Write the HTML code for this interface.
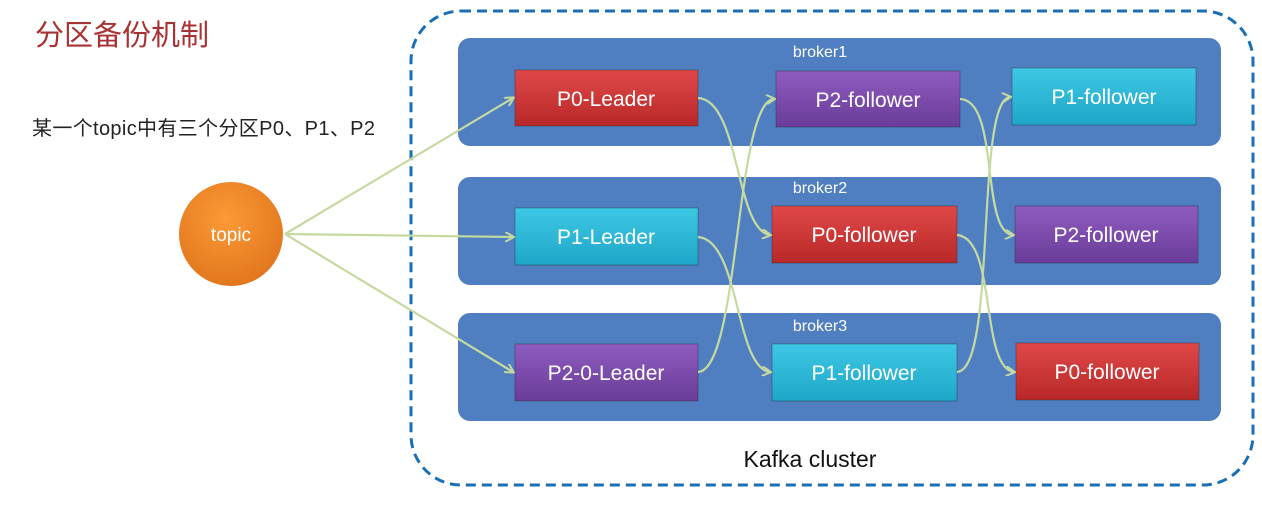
<!DOCTYPE html>
<html><head><meta charset="utf-8"><style>
body{margin:0;background:#fff;width:1262px;height:507px;overflow:hidden}
text{font-family:"Liberation Sans","Noto Sans CJK SC",sans-serif}
</style></head><body>
<svg width="1262" height="507" viewBox="0 0 1262 507" xmlns="http://www.w3.org/2000/svg">
<defs>
<linearGradient id="red" x1="0" y1="0" x2="0" y2="1"><stop offset="0" stop-color="#e04848"/><stop offset="1" stop-color="#b82828"/></linearGradient>
<linearGradient id="pur" x1="0" y1="0" x2="0" y2="1"><stop offset="0" stop-color="#8e5cc0"/><stop offset="1" stop-color="#6a3c98"/></linearGradient>
<linearGradient id="cy" x1="0" y1="0" x2="0" y2="1"><stop offset="0" stop-color="#3ec8e4"/><stop offset="1" stop-color="#1ea6c8"/></linearGradient>
<radialGradient id="or" cx="0.45" cy="0.35" r="0.7"><stop offset="0" stop-color="#fb9a36"/><stop offset="1" stop-color="#e0741c"/></radialGradient>
<marker id="a" markerWidth="10" markerHeight="10" refX="8" refY="5" orient="auto" markerUnits="userSpaceOnUse"><path d="M0,0 L9,5 L0,10" fill="none" stroke="#c5d9a0" stroke-width="2"/></marker>
</defs>
<text x="35" y="45" font-size="29" fill="#a83232">分区备份机制</text>
<text x="32" y="135" font-size="20" fill="#222" textLength="343">某一个topic中有三个分区P0、P1、P2</text>
<rect x="411" y="11" width="842" height="474" rx="50" fill="none" stroke="#1a6fb5" stroke-width="3" stroke-dasharray="10 6"/>
<g fill="#4f7fc0">
<rect x="458" y="38" width="763" height="108" rx="12"/>
<rect x="458" y="177" width="763" height="108" rx="12"/>
<rect x="458" y="313" width="763" height="108" rx="12"/>
</g>
<g font-size="16" fill="#fff" text-anchor="middle">
<text x="820" y="57">broker1</text><text x="820" y="193">broker2</text><text x="820" y="331">broker3</text>
</g>
<g stroke="#222" stroke-opacity="0.35" stroke-width="1">
<rect x="515" y="70" width="183" height="56" fill="url(#red)"/>
<rect x="776" y="71" width="184" height="56" fill="url(#pur)"/>
<rect x="1012" y="68" width="184" height="57" fill="url(#cy)"/>
<rect x="515" y="208" width="183" height="57" fill="url(#cy)"/>
<rect x="772" y="206" width="185" height="57" fill="url(#red)"/>
<rect x="1015" y="206" width="183" height="57" fill="url(#pur)"/>
<rect x="515" y="344" width="183" height="57" fill="url(#pur)"/>
<rect x="772" y="344" width="185" height="57" fill="url(#cy)"/>
<rect x="1016" y="343" width="183" height="57" fill="url(#red)"/>
</g>
<g font-size="21" fill="#fff" text-anchor="middle">
<text x="606" y="106">P0-Leader</text>
<text x="868" y="107">P2-follower</text>
<text x="1104" y="104">P1-follower</text>
<text x="606" y="244">P1-Leader</text>
<text x="864" y="242">P0-follower</text>
<text x="1106" y="242">P2-follower</text>
<text x="606" y="380">P2-0-Leader</text>
<text x="864" y="380">P1-follower</text>
<text x="1107" y="379">P0-follower</text>
</g>
<circle cx="231" cy="234" r="52" fill="url(#or)"/>
<text x="231" y="241" font-size="19" fill="#fff" text-anchor="middle">topic</text>
<g fill="none" stroke="#c5d9a0" stroke-width="2.2" marker-end="url(#a)">
<path d="M285,234 L513,98"/>
<path d="M285,234 L513,237"/>
<path d="M285,234 L513,372"/>
<path d="M698,98 C740,100 735,230 770,235"/>
<path d="M698,237 C740,240 735,368 770,372"/>
<path d="M698,372 C740,370 735,102 774,99"/>
<path d="M960,99 C1000,100 980,232 1013,235"/>
<path d="M957,235 C997,238 980,368 1014,372"/>
<path d="M957,372 C997,370 975,100 1010,97"/>
</g>
<text x="810" y="467" font-size="23" fill="#111" text-anchor="middle">Kafka cluster</text>
</svg>
</body></html>
